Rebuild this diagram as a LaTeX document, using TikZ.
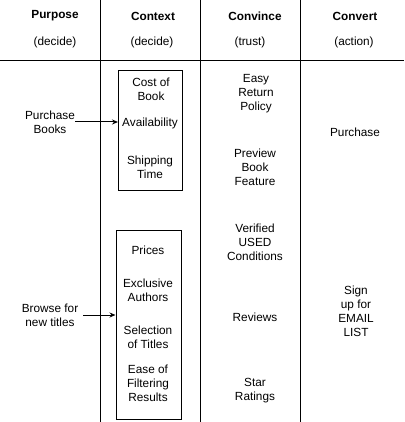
\documentclass[tikz,border=0pt]{standalone}
\usepackage{fontspec}
\setmainfont{Liberation Sans}
\usetikzlibrary{arrows.meta}

\tikzset{
  txt/.style={align=center, inner sep=0pt, font=\fontsize{11.8}{14}\selectfont},
  head/.style={txt, font=\fontsize{11.8}{14}\selectfont\bfseries},
  ctxbox/.style={draw, line width=1pt, inner sep=0pt},
  rule/.style={line width=1pt},
  link/.style={line width=1pt, -{Stealth[length=6pt,width=5pt]}}
}

\begin{document}
\begin{tikzpicture}[x=1pt,y=-1pt]
\useasboundingbox (0,0) rectangle (404,422);

% grid lines
\draw[rule] (0,61) -- (404,61);
\draw[rule] (100,0) -- (100,422);
\draw[rule] (200,0) -- (200,422);
\draw[rule] (300,0) -- (300,422);

% column heads
\node[head] (purpose) at (55,16) {Purpose};
\node[head] (context) at (153,16) {Context};
\node[head] (convince) at (255,16) {Convince};
\node[head] (convert) at (355,16) {Convert};

\node[txt] at (55,42) {(decide)};
\node[txt] at (152,42) {(decide)};
\node[txt] at (250,42) {(trust)};
\node[txt] at (354,42) {(action)};

% context boxes
\node[ctxbox, minimum width=64pt, minimum height=120pt] (ctxa) at (150.5,130.5) {};
\node[ctxbox, minimum width=65pt, minimum height=189pt] (ctxb) at (148.5,324.5) {};

\node[txt] (cost) at (151,89) {Cost of\\Book};
\node[txt] (avail) at (150,123) {Availability};
\node[txt] (ship) at (150,167) {Shipping\\Time};

\node[txt] (prices) at (148,250) {Prices};
\node[txt] (excl) at (148,290.5) {Exclusive\\Authors};
\node[txt] (select) at (148,337.5) {Selection\\of Titles};
\node[txt] (ease) at (148,383.5) {Ease of\\Filtering\\Results};

% purpose
\node[txt] (buy) at (50,122) {Purchase\\Books};
\node[txt] (browse) at (50,315.5) {Browse for\\new titles};

\draw[link] (buy.east |- 0,122) -- (ctxa.west |- 0,122);
\draw[link] (browse.east |- 0,315) ++(5,0) -- (ctxb.west |- 0,315);

% convince
\node[txt] (easy) at (256,94) {Easy\\Return\\Policy};
\node[txt] (preview) at (255,167.5) {Preview\\Book\\Feature};
\node[txt] (verified) at (255,242.5) {Verified\\USED\\Conditions};
\node[txt] (reviews) at (255,317) {Reviews};
\node[txt] (stars) at (255,390.5) {Star\\Ratings};

% convert
\node[txt] (purchase) at (355,132) {Purchase};
\node[txt] (signup) at (356,311) {Sign\\up for\\EMAIL\\LIST};
\end{tikzpicture}
\end{document}
